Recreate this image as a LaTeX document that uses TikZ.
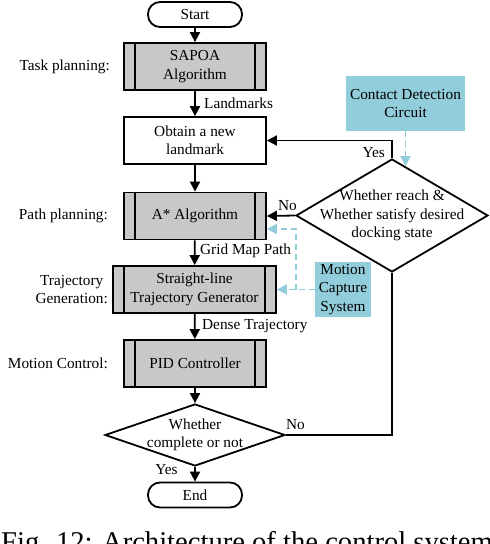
\documentclass[tikz,border=0pt]{standalone}
\usepackage{fontspec}
\setmainfont{Liberation Serif}
\usetikzlibrary{shapes.geometric,arrows.meta,calc}
\definecolor{boxgray}{RGB}{200,200,200}
\definecolor{lblue}{RGB}{146,205,220}
\begin{document}
\begin{tikzpicture}[x=1pt,y=-1pt,
  every node/.style={font=\fontsize{15.3}{18.5}\selectfont},
  lbl/.style={inner sep=0pt,align=center},
  line/.style={line width=1.8pt},
  arr/.style={line width=1.8pt,-{Triangle[length=10pt,width=10pt]}},
  darr/.style={draw=lblue,line width=1.8pt,dash pattern=on 6pt off 4pt,-{Triangle[length=10pt,width=10pt]}},
  term/.style={draw,line width=1.8pt,rounded corners=12pt,minimum width=94pt,minimum height=25pt,inner sep=0pt},
  plainbox/.style={draw,line width=1.8pt,minimum width=142pt,minimum height=47pt,inner sep=0pt,align=center},
  proc/.style={draw,line width=1.8pt,fill=boxgray,minimum width=142pt,minimum height=47pt,inner sep=0pt,align=center,
    path picture={
      \draw[line width=1.8pt] ([xshift=11pt]path picture bounding box.north west) -- ([xshift=11pt]path picture bounding box.south west);
      \draw[line width=1.8pt] ([xshift=-11pt]path picture bounding box.north east) -- ([xshift=-11pt]path picture bounding box.south east);}},
  dec/.style={draw,line width=1.8pt,shape=diamond,inner sep=0pt},
  bluebox/.style={fill=lblue,inner sep=0pt,align=center}
]
\useasboundingbox (0,0) rectangle (490,544);

% main column
\node[term] (start) at (195,14.5) {Start};
\node[proc] (sapoa) at (195,66.5) {SAPOA\\Algorithm};
\node[plainbox] (obtain) at (195,140.5) {Obtain a new\\landmark};
\node[proc] (astar) at (195,216) {A* Algorithm};
\node[proc,minimum width=163pt] (sl) at (194.5,289.5) {Straight-line\\Trajectory Generator};
\node[proc] (pid) at (195,363.5) {PID Controller};
\node[dec,minimum width=180pt,minimum height=62pt] (d2) at (195,435) {};
\node[lbl] (d2t) at (195,435) {Whether\\complete or not};
\node[term] (end) at (195,495) {End};

% right side
\node[dec,minimum width=192pt,minimum height=113pt] (d1) at (392,215.5) {};
\node[lbl] (d1t) at (392,215.5) {Whether reach \&\\Whether satisfy desired\\docking state};
\node[bluebox,minimum width=119pt,minimum height=55pt] (cdc) at (405.5,103.5) {Contact Detection\\Circuit};
\node[bluebox,minimum width=56pt,minimum height=55pt] (mcs) at (343,289.5) {Motion\\Capture\\System};

% left labels
\node[lbl,anchor=east] (tp) at (110,67) {Task planning:};
\node[lbl,anchor=east] (pp) at (108,216) {Path planning:};
\node[lbl,anchor=east] (tg) at (108,289.5) {Trajectory\\Generation:};
\node[lbl,anchor=east] (mc) at (108,363) {Motion Control:};

% connector labels
\node[lbl,anchor=west] (lm) at (204,103) {Landmarks};
\node[lbl,anchor=west] (gmp) at (200,251) {Grid Map Path};
\node[lbl,anchor=west] (dt) at (202,326) {Dense Trajectory};
\node[lbl,anchor=east] (yes1) at (385,153) {Yes};
\node[lbl] (no1) at (287.5,206) {No};
\node[lbl] (no2) at (295.5,425) {No};
\node[lbl] (yes2) at (166.5,470) {Yes};

% connectors
\draw[arr] (start) -- (sapoa);
\draw[arr] (sapoa) -- (obtain);
\draw[arr] (obtain) -- (astar);
\draw[arr] (astar) -- (sl);
\draw[arr] (sl) -- (pid);
\draw[arr] (pid.south) -- (d2.north);
\draw[arr] (d2.south) -- (end.north);
\draw[arr] (d1.west) -- (astar.east);
\draw[arr] (d1.north) |- (obtain.east);
\draw[line] (d2.east) -| (d1.south);

% dashed sensor links
\coordinate (d1ne) at ($(d1.north)!0.14!(d1.east)$);
\draw[darr] (cdc.south) -- (cdc.south |- d1ne);
\coordinate (j) at (296,289.5);
\coordinate (aIn) at ([yshift=-13pt]astar.east);
\draw[darr] (mcs.west) -- (sl.east);
\draw[darr] (j) |- (aIn);

% caption (cut by the page edge)
\node[anchor=base west,inner sep=0pt,font=\fontsize{28.6}{30}\selectfont] (cap) at (1,551) {Fig. 12: Architecture of the control system};
\end{tikzpicture}
\end{document}
